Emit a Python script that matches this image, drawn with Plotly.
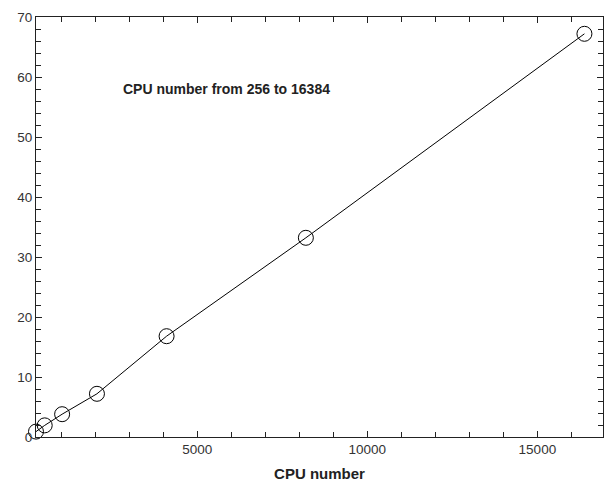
import plotly.graph_objects as go

cpu_numbers = [256, 512, 1024, 2048, 4096, 8192, 16384]
values = [0.9, 1.94, 3.8, 7.2, 16.8, 33.2, 67.2]
x_tick_vals = [5000, 10000, 15000]
x_tick_text = ["5000", "10000", "15000"]
y_tick_vals = [0, 10, 20, 30, 40, 50, 60, 70]

fig = go.Figure()
fig.add_trace(go.Scatter(
    x=cpu_numbers, y=values, mode="lines+markers",
    line=dict(color="black", width=1),
    marker=dict(symbol="circle-open", size=15, color="black", line=dict(width=1)),
    cliponaxis=False, showlegend=False,
))

axis_common = dict(
    showline=True, linecolor="#222", linewidth=1.2, mirror="ticks",
    ticks="inside", ticklen=6, tickcolor="#222", tickwidth=1,
    showgrid=False, zeroline=False,
    tickfont=dict(family="Liberation Sans, Arial", size=13.5, color="#333"),
)

fig.update_xaxes(
    range=[256, 16930], tickvals=x_tick_vals, ticktext=x_tick_text,
    minor=dict(dtick=1000, tick0=0, ticks="inside", ticklen=5, tickcolor="#222", showgrid=False),
    title=dict(text="<b>CPU number</b>", font=dict(family="Liberation Sans, Arial", size=15, color="#222"), standoff=12),
    **axis_common,
)
fig.update_yaxes(
    range=[0, 70], tickvals=y_tick_vals,
    minor=dict(dtick=2, tick0=0, ticks="inside", ticklen=5, tickcolor="#222", showgrid=False),
    **axis_common,
)

fig.add_annotation(
    text="<b>CPU number from 256 to 16384</b>", xref="paper", yref="paper",
    x=0.336, y=0.853, showarrow=False,
    font=dict(family="Liberation Sans, Arial", size=14, color="#222"),
)

fig.update_layout(
    width=606, height=482,
    margin=dict(l=36, r=2, t=17, b=41),
    paper_bgcolor="white", plot_bgcolor="white",
)

fig.write_html("out.html")
